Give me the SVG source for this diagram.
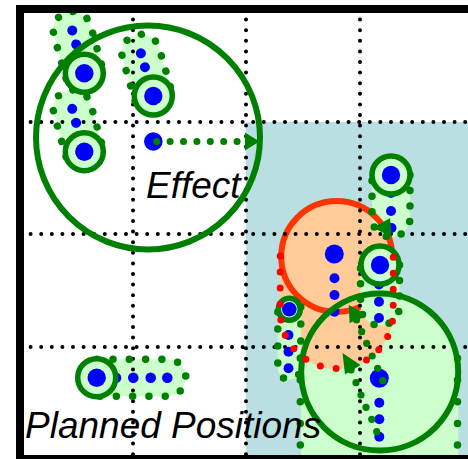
<svg xmlns="http://www.w3.org/2000/svg" xmlns:xlink="http://www.w3.org/1999/xlink" width="468" height="459" viewBox="0 0 468 459">
<style>
.lg{fill:#ccffcc}
.dg{fill:none;stroke:#008000;stroke-width:7.5;stroke-linecap:round}
.ring{fill:#ccffcc;stroke:#008000;stroke-width:5.5}
.core{fill:#0000ff}
.grid{fill:none;stroke:#000;stroke-width:4;stroke-linecap:round;stroke-dasharray:0 10.6}
.big{fill:none;stroke:#008000;stroke-width:6}
.gd{fill:#008000}
.label{font-family:"Liberation Sans",Arial,sans-serif;font-style:italic;font-size:37px;fill:#000}
</style>
<defs>
<path id="capFill" d="M-19,0 V-44.5 A19,19 0 0 1 19,-44.5 V0 A19,19 0 0 1 -19,0 Z"/>
<path id="capLine" d="M-19,0 V-44.5 A19,19 0 0 1 19,-44.5 V0"/>
</defs>
<rect x="0" y="0" width="468" height="459" fill="#fff"/>
<rect x="246" y="122" width="230" height="340" fill="#b9dfe3"/>

<g id="trail-fills">
<use xlink:href="#capFill" class="lg" transform="translate(84.3,73.3) rotate(-15.7)"/>
<use xlink:href="#capFill" class="lg" transform="translate(153.3,96) rotate(-16.2)"/>
<use xlink:href="#capFill" class="lg" transform="translate(84.3,151.7) rotate(-15.7)"/>
<path class="lg" d="M96.7,359.2 H167.3 A18.5,18.5 0 0 1 167.3,396.2 H96.7 Z"/>
<path class="lg" d="M301.2,372 V470 H458.2 V372 A78.5,78.5 0 0 0 301.2,372 Z"/>
<path fill="#ffcc99" d="M279.7,256.5 V312 A57,57 0 0 0 393.7,312 V256.5 A57,57 0 0 0 279.7,256.5 Z"/>
<path class="lg" d="M372,175 V218 A19,19 0 0 0 410,218 V175 Z"/>
<path class="lg" d="M277.8,309.3 V368 A11.5,11.5 0 0 0 300.8,368 V309.3 Z"/>
<circle cx="336.7" cy="256.5" r="55.5" fill="none" stroke="#ff3300" stroke-width="6"/>
<path class="lg" d="M360.5,265 V306 A19.5,19.5 0 0 0 399.5,306 V265 Z"/>
</g>

<g id="grid">
<path class="grid" d="M20,122 H468 M20,234 H468 M20,347 H468 M133,9 V459 M246,9 V459 M360,9 V459"/>
</g>

<g id="robot-a">
<g transform="translate(84.3,73.3) rotate(-15.7)">
<circle class="core" cx="0" cy="-15" r="5"/><circle class="core" cx="0" cy="-30" r="5"/><circle class="core" cx="0" cy="-44.5" r="5"/>
<use xlink:href="#capLine" class="dg" stroke-dasharray="0 16"/>
</g>
<circle class="ring" cx="84.3" cy="73.3" r="19"/><circle class="core" cx="84.3" cy="73.3" r="9.2"/>
</g>
<g id="robot-b">
<g transform="translate(153.3,96) rotate(-16.2)">
<circle class="core" cx="0" cy="-15.5" r="5"/><circle class="core" cx="0" cy="-30" r="5"/><circle class="core" cx="0" cy="-44.5" r="5"/>
<use xlink:href="#capLine" class="dg" stroke-dasharray="0 16"/>
</g>
<circle class="ring" cx="153.3" cy="96" r="19"/><circle class="core" cx="153.3" cy="96" r="9.2"/>
</g>
<g id="robot-c">
<g transform="translate(84.3,151.7) rotate(-15.7)">
<circle class="core" cx="0" cy="-15" r="5"/><circle class="core" cx="0" cy="-30" r="5"/><circle class="core" cx="0" cy="-44.5" r="5"/>
<use xlink:href="#capLine" class="dg" stroke-dasharray="0 16"/>
</g>
<circle class="ring" cx="84.3" cy="151.7" r="19"/><circle class="core" cx="84.3" cy="151.7" r="9.2"/>
</g>
<g id="robot-d">
<circle class="core" cx="116" cy="377.7" r="5.3"/><circle class="core" cx="133.3" cy="377.7" r="5.3"/><circle class="core" cx="150.7" cy="377.7" r="5.3"/><circle class="core" cx="167.3" cy="377.7" r="5.3"/>
<path class="dg" stroke-dasharray="0 16.3" d="M96.7,359.2 H167.3 A18.5,18.5 0 0 1 167.3,396.2 H96.7"/>
<circle class="ring" cx="96.7" cy="377.7" r="19"/><circle class="core" cx="96.7" cy="377.7" r="9.2"/>
</g>

<g id="effect">
<circle class="big" cx="148" cy="137.5" r="112"/>
<circle class="core" cx="153.3" cy="141.5" r="9.3"/>
<line x1="156.7" y1="141.5" x2="240" y2="141.5" stroke="#008000" stroke-width="7" stroke-linecap="round" stroke-dasharray="0 13.4"/>
<polygon class="gd" points="245,132.5 245,150.5 259.5,141.5"/>
</g>

<g id="robot-e">
<circle class="core" cx="391" cy="193" r="5"/><circle class="core" cx="391" cy="211" r="5"/><circle class="core" cx="391.5" cy="228" r="5"/>
<path class="dg" stroke-dasharray="0 15.5" d="M410,175 V218 A19,19 0 0 1 372,218 V175"/>
<circle class="ring" cx="391" cy="175" r="19"/><circle class="core" cx="391" cy="175" r="9.2"/>
</g>

<g id="robot-orange">
<circle class="core" cx="334.3" cy="254" r="9.5"/>
<circle class="core" cx="334.5" cy="278.3" r="5"/><circle class="core" cx="334.5" cy="295" r="5"/><circle class="core" cx="334.5" cy="311.7" r="5"/>
</g>

<g id="robot-f">
<circle class="core" cx="379" cy="284.5" r="5"/><circle class="core" cx="379" cy="301.7" r="5"/><circle class="core" cx="379" cy="318" r="5"/>
<path class="dg" stroke-dasharray="0 15.5" d="M399.5,265 V306 A19.5,19.5 0 0 1 360.5,306 V265"/>
<circle class="ring" cx="380" cy="265" r="19"/><circle class="core" cx="380" cy="265" r="9.2"/>
</g>

<g id="robot-g">
<circle class="core" cx="288.5" cy="335" r="5"/><circle class="core" cx="288.5" cy="351.7" r="5"/><circle class="core" cx="288.5" cy="368.3" r="5"/>
<path class="dg" stroke-dasharray="0 17" d="M300.8,307 V368 A11.5,11.5 0 0 1 277.8,368 V307"/>
<circle class="ring" cx="289.3" cy="309.3" r="11" stroke-width="4.5"/><circle class="core" cx="289.3" cy="309.3" r="7.3"/>
</g>

<g id="robot-big">
<circle class="core" cx="379.3" cy="402.7" r="5"/><circle class="core" cx="379.3" cy="419.3" r="5"/><circle class="core" cx="379.3" cy="436.7" r="5"/>
<path class="dg" stroke-dasharray="0 21.7" d="M300.3,358.3 V470 M457.5,358.3 V470"/>
<circle class="big" cx="379.7" cy="372" r="78.5"/>
<circle class="core" cx="379.3" cy="378.3" r="9.5"/>
</g>

<g id="orange-outline">
<path fill="none" stroke="#ff0000" stroke-width="7" stroke-linecap="round" stroke-dasharray="0 16" d="M280.2,256 V312 A56.5,56.5 0 0 0 393.2,312 V256"/>
</g>

<g id="connectors">
<g class="gd">
<circle cx="382.7" cy="380.7" r="3.6"/><circle cx="377.7" cy="368.3" r="3.6"/><circle cx="372.2" cy="356" r="3.6"/><circle cx="366.7" cy="343.3" r="3.6"/><circle cx="361.7" cy="331.7" r="3.6"/><circle cx="356.5" cy="320" r="3.6"/>
<circle cx="376.7" cy="431.7" r="3.6"/><circle cx="371.7" cy="419.3" r="3.6"/><circle cx="366" cy="407.3" r="3.6"/><circle cx="361" cy="395" r="3.6"/><circle cx="356" cy="382.7" r="3.6"/><circle cx="351" cy="370" r="3.6"/>
</g>
<polygon class="gd" points="348.8,305 349.6,323.3 365.8,314.2"/>
<polygon class="gd" points="342.5,353 345,374.5 360.5,365"/>
<polygon class="gd" points="372.7,227.7 390,218.3 391.7,236.7"/>
</g>

<text class="label" x="146" y="198">Effect</text>
<text class="label" x="25" y="438">Planned Positions</text>

<rect x="20" y="9" width="460" height="450" fill="none" stroke="#000" stroke-width="8"/>
</svg>
